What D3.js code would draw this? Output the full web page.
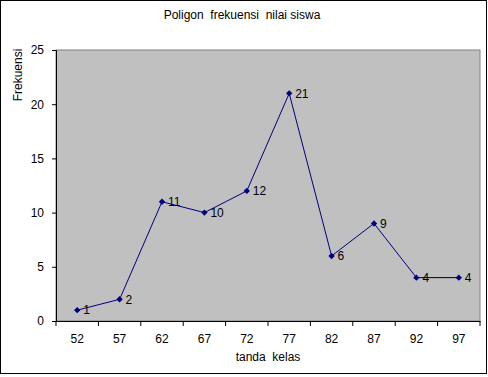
<!DOCTYPE html>
<html>
<head>
<meta charset="utf-8">
<script src="https://cdn.jsdelivr.net/npm/d3@7"></script>
<style>
  body { margin: 0; background: #fff; }
  svg text { font-family: "Liberation Sans", Arial, sans-serif; font-size: 12px; fill: #000; white-space: pre; }
</style>
</head>
<body>
<div id="chart"></div>
<script>
var kelas = ["52", "57", "62", "67", "72", "77", "82", "87", "92", "97"];
var frekuensi = [1, 2, 11, 10, 12, 21, 6, 9, 4, 4];
var yTicks = [0, 5, 10, 15, 20, 25];

var width = 488, height = 377;
var plot = { left: 56, top: 50, right: 480, bottom: 321 };

var svg = d3.select("#chart").append("svg")
    .attr("width", width)
    .attr("height", height);

// outer frame
svg.append("rect")
    .attr("x", 0.5).attr("y", 0.5)
    .attr("width", width - 2).attr("height", height - 4)
    .attr("fill", "#fff")
    .attr("stroke", "#000");

var x = d3.scaleBand()
    .domain(kelas)
    .range([plot.left, plot.right]);

var y = d3.scaleLinear()
    .domain([0, 25])
    .range([plot.bottom, plot.top]);

// plot area
svg.append("rect")
    .attr("x", plot.left).attr("y", plot.top)
    .attr("width", plot.right - plot.left)
    .attr("height", plot.bottom - plot.top)
    .attr("fill", "#c0c0c0")
    .attr("stroke", "#808080");

// y axis
var yAxis = svg.append("g")
    .attr("transform", "translate(" + plot.left + ",0)")
    .call(d3.axisLeft(y).tickValues(yTicks).tickSize(4).tickPadding(8));
yAxis.select(".domain").attr("stroke", "#000");
yAxis.selectAll("text").style("font-size", "12px");

// x axis with ticks between categories
var xAxis = svg.append("g")
    .attr("transform", "translate(0," + plot.bottom + ")")
    .call(d3.axisBottom(x).tickSize(0).tickPadding(13));
xAxis.select(".domain").attr("stroke", "#000");
xAxis.selectAll("text").style("font-size", "12px");
xAxis.selectAll(".sep")
    .data(kelas.concat([null]))
    .enter().append("line")
    .attr("x1", function (d, i) { return plot.left + i * x.step(); })
    .attr("x2", function (d, i) { return plot.left + i * x.step(); })
    .attr("y1", 0).attr("y2", 5)
    .attr("stroke", "#000");

var cx = function (d, i) { return x(kelas[i]) + x.bandwidth() / 2; };

// line segments (last one is drawn black)
var segs = d3.pairs(frekuensi.map(function (d, i) { return [cx(d, i), y(d)]; }));
svg.selectAll(".seg")
    .data(segs)
    .enter().append("line")
    .attr("x1", function (s) { return s[0][0]; })
    .attr("y1", function (s) { return s[0][1]; })
    .attr("x2", function (s) { return s[1][0]; })
    .attr("y2", function (s) { return s[1][1]; })
    .attr("stroke", function (s, i) { return i === segs.length - 1 ? "#000" : "#000080"; })
    .attr("stroke-width", 1);

// markers (square diamonds)
svg.selectAll(".pt")
    .data(frekuensi)
    .enter().append("path")
    .attr("d", "M0,-3.2L3.2,0L0,3.2L-3.2,0Z")
    .attr("transform", function (d, i) { return "translate(" + cx(d, i) + "," + y(d) + ")"; })
    .attr("fill", "#000080");

// data labels
svg.selectAll(".lbl")
    .data(frekuensi)
    .enter().append("text")
    .attr("x", function (d, i) { return cx(d, i) + 6; })
    .attr("y", function (d) { return y(d); })
    .attr("dy", "0.35em")
    .text(String);

// titles
svg.append("text")
    .attr("x", 242).attr("y", 19)
    .attr("text-anchor", "middle")
    .text("Poligon  frekuensi  nilai siswa");

svg.append("text")
    .attr("x", 268).attr("y", 361)
    .attr("text-anchor", "middle")
    .text("tanda  kelas");

svg.append("text")
    .attr("transform", "translate(22,75) rotate(-90)")
    .attr("text-anchor", "middle")
    .text("Frekuensi");
</script>
</body>
</html>
